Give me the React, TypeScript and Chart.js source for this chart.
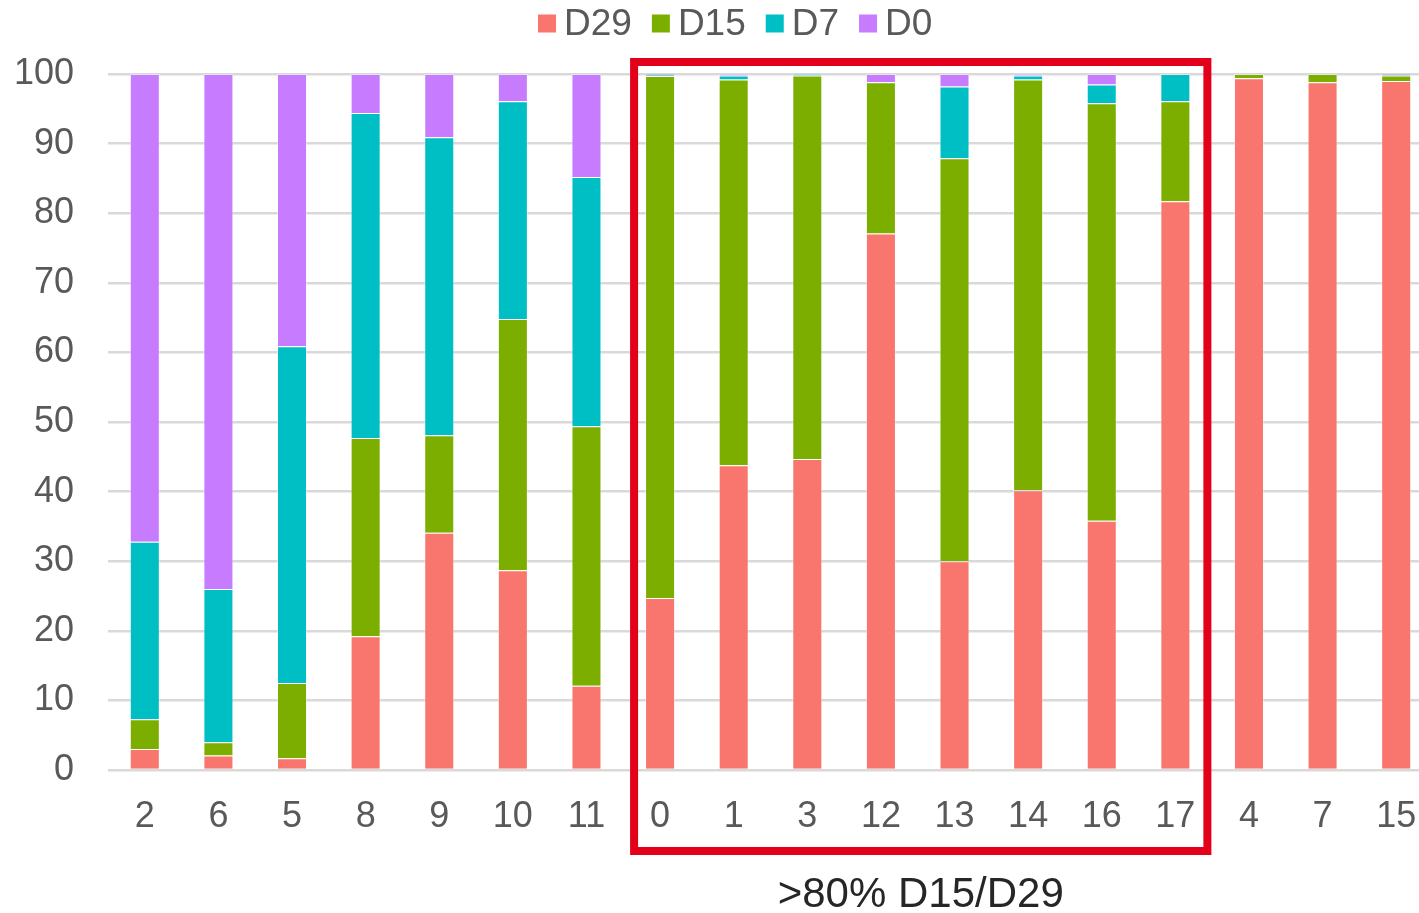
import React, { useEffect, useRef } from "react";
import { Chart, registerables } from "chart.js";

Chart.register(...registerables);

const categories = ["2", "6", "5", "8", "9", "10", "11", "0", "1", "3", "12", "13", "14", "16", "17", "4", "7", "15"];
const d29 = [3.0, 2.1, 1.7, 19.2, 34.1, 28.7, 12.1, 24.7, 43.8, 44.7, 77.1, 30.0, 40.2, 35.8, 81.7, 99.4, 98.8, 99.0];
const d15 = [4.3, 1.9, 10.8, 28.5, 14.0, 36.1, 37.3, 75.0, 55.4, 55.1, 21.7, 57.9, 59.0, 60.0, 14.4, 0.6, 1.2, 0.8];
const d7 = [25.5, 22.0, 48.4, 46.7, 42.8, 31.3, 35.8, 0.2, 0.6, 0.2, 0, 10.3, 0.6, 2.7, 3.9, 0, 0, 0.1];
const d0 = [67.2, 74.0, 39.1, 5.6, 9.1, 3.9, 14.8, 0.1, 0.2, 0, 1.2, 1.8, 0.2, 1.5, 0, 0, 0, 0.1];

const seriesNames = ["D29", "D15", "D7", "D0"];
const seriesColors = ["#F8766D", "#7CAE00", "#00BFC4", "#C77CFF"];
const highlightFirst = 7; // category index "0"
const highlightLast = 14; // category index "17"
const annotationText = ">80% D15/D29";

const FONT = "'Liberation Sans', Arial, sans-serif";

const legendPlugin = {
  id: "customLegend",
  afterDraw(chart: any) {
    const ctx = chart.ctx;
    ctx.save();
    ctx.font = `37px ${FONT}`;
    ctx.textBaseline = "middle";
    ctx.textAlign = "left";
    let x = 538;
    const yc = 24;
    seriesNames.forEach((name, i) => {
      ctx.fillStyle = seriesColors[i];
      ctx.fillRect(x, yc - 9.5, 18, 18);
      ctx.fillStyle = "#595959";
      ctx.fillText(name, x + 26, yc + 1);
      x += 26 + ctx.measureText(name).width + 20;
    });
    ctx.restore();
  },
};

const boxPlugin = {
  id: "highlightBox",
  afterDraw(chart: any) {
    const ctx = chart.ctx;
    const xs = chart.scales.x;
    const ys = chart.scales.y;
    const cw = xs.getPixelForValue(1) - xs.getPixelForValue(0);
    const left = xs.getPixelForValue(highlightFirst) - 0.353 * cw;
    const right = xs.getPixelForValue(highlightLast) + 0.435 * cw;
    const top = ys.getPixelForValue(100) - 12;
    const bottom = chart.chartArea.bottom + 81;
    ctx.save();
    ctx.strokeStyle = "#E2001A";
    ctx.lineWidth = 8;
    ctx.strokeRect(left, top, right - left, bottom - top);
    ctx.fillStyle = "#262626";
    ctx.font = `42px ${FONT}`;
    ctx.textAlign = "center";
    ctx.textBaseline = "alphabetic";
    ctx.fillText(annotationText, (left + right) / 2, 907);
    ctx.restore();
  },
};

export default function App() {
  const ref = useRef<HTMLCanvasElement | null>(null);
  useEffect(() => {
    if (!ref.current) return;
    const seriesData = [d29, d15, d7, d0];
    const chart = new Chart(ref.current, {
      type: "bar",
      data: {
        labels: categories,
        datasets: seriesNames.map((name, i) => ({
          label: name,
          data: seriesData[i],
          backgroundColor: seriesColors[i],
          borderColor: "rgba(255,255,255,0.35)",
          borderWidth: 1,
          categoryPercentage: 1,
          barPercentage: 0.408,
        })),
      },
      options: {
        responsive: false,
        animation: false,
        devicePixelRatio: 1,
        layout: { padding: { left: 0, right: 7, top: 74, bottom: 0 } },
        plugins: {
          legend: { display: false },
          tooltip: { enabled: false },
        },
        scales: {
          x: {
            stacked: true,
            grid: { display: false },
            border: { display: false },
            ticks: {
              color: "#595959",
              font: { family: FONT, size: 36 },
              padding: 17,
              maxRotation: 0,
              autoSkip: false,
            },
            afterFit(scale: any) {
              scale.height = 143;
            },
          },
          y: {
            stacked: true,
            min: 0,
            max: 100,
            border: { display: false },
            grid: { color: "#D9D9D9", lineWidth: 2.5, drawTicks: false },
            ticks: {
              stepSize: 10,
              color: "#595959",
              font: { family: FONT, size: 36 },
              padding: 34,
            },
            afterFit(scale: any) {
              scale.width = 108;
            },
          },
        },
      },
      plugins: [legendPlugin, boxPlugin],
    });
    return () => chart.destroy();
  }, []);

  return (
    <div style={{ position: "fixed", left: 0, top: 0, width: 1419, height: 913, overflow: "hidden", background: "#fff" }}>
      <canvas ref={ref} width={1440} height={913} style={{ display: "block", width: 1440, height: 913 }} />
    </div>
  );
}
